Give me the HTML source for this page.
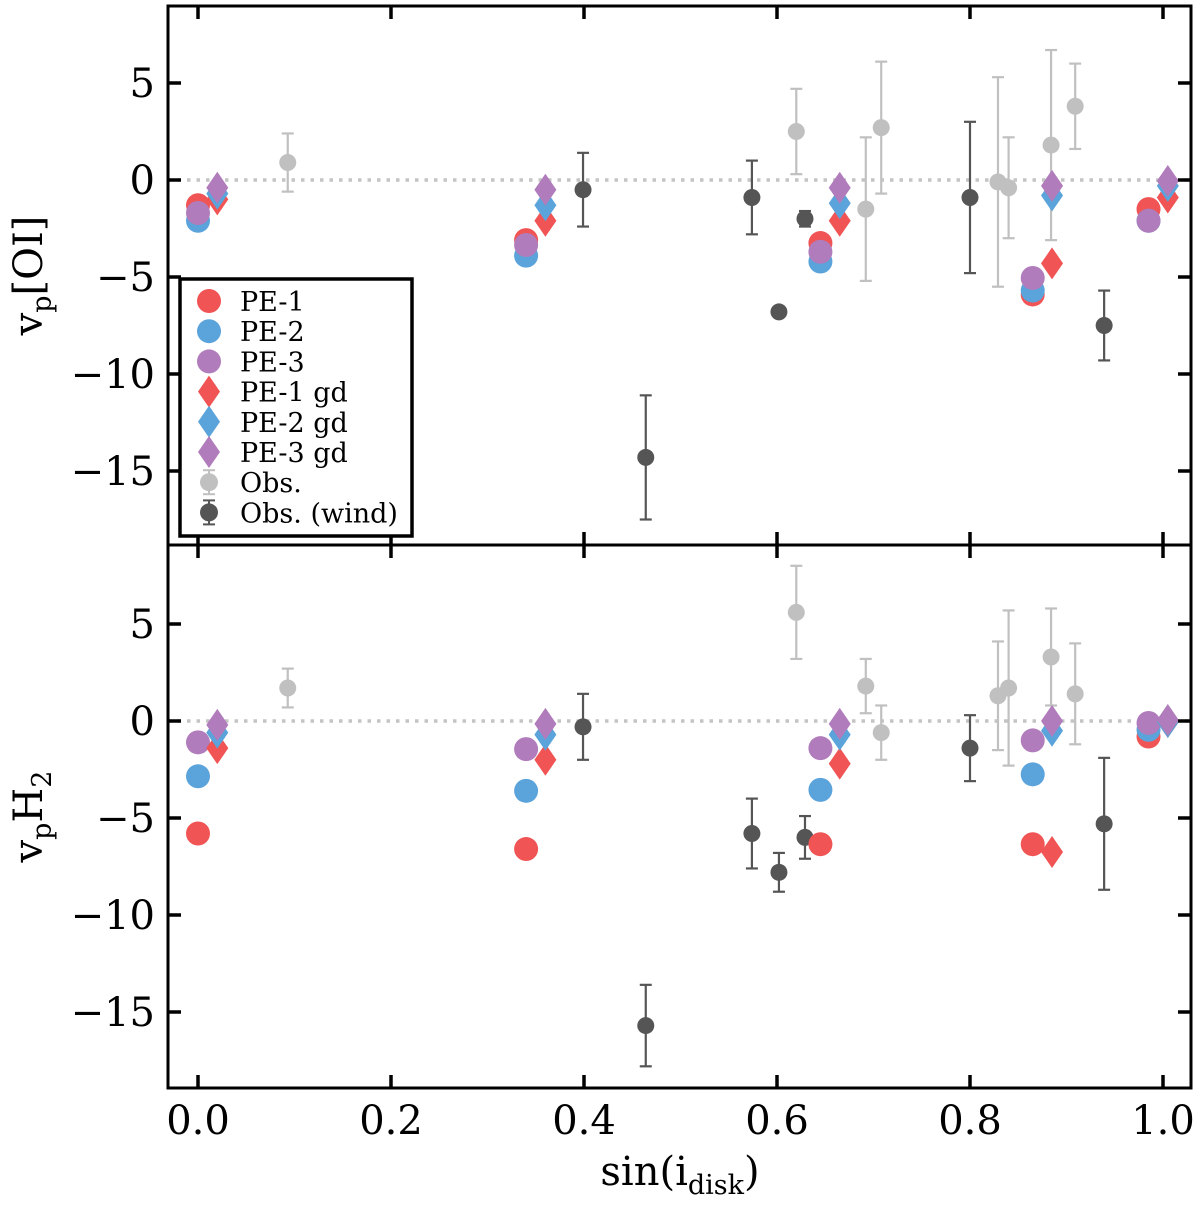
<!DOCTYPE html>
<html><head><meta charset="utf-8"><style>
body{margin:0;background:#fff}
svg text{font-family:"DejaVu Serif","Liberation Serif",serif;fill:#000}
</style></head><body>
<svg id="chart" width="1200" height="1202" viewBox="0 0 1200 1202" xmlns="http://www.w3.org/2000/svg"></svg>
<script>
const modelX = [0.0, 0.34, 0.645, 0.865, 0.985];
const gdX = [0.02, 0.36, 0.665, 0.885, 1.005];
const oiPE1 = [-1.3, -3.1, -3.25, -5.9, -1.5];
const oiPE2 = [-2.1, -3.9, -4.2, -5.7, -2.1];
const oiPE3 = [-1.7, -3.35, -3.7, -5.05, -2.1];
const oiPE1gd = [-1.0, -2.1, -2.1, -4.3, -0.9];
const oiPE2gd = [-0.7, -1.3, -1.2, -0.8, -0.3];
const oiPE3gd = [-0.4, -0.5, -0.4, -0.3, -0.05];
const h2PE1 = [-5.8, -6.6, -6.35, -6.35, -0.8];
const h2PE2 = [-2.85, -3.6, -3.55, -2.75, -0.45];
const h2PE3 = [-1.1, -1.45, -1.4, -1.0, -0.1];
const h2PE1gd = [-1.4, -2.0, -2.2, -6.75, -0.05];
const h2PE2gd = [-0.6, -0.7, -0.7, -0.5, -0.05];
const h2PE3gd = [-0.2, -0.15, -0.15, 0.0, 0.05];
const obsX = [0.093, 0.62, 0.692, 0.708, 0.829, 0.840, 0.884, 0.909];
const oiObs = [0.9, 2.5, -1.5, 2.7, -0.1, -0.4, 1.8, 3.8];
const oiObsErr = [1.5, 2.2, 3.7, 3.4, 5.4, 2.6, 4.9, 2.2];
const h2Obs = [1.7, 5.6, 1.8, -0.6, 1.3, 1.7, 3.3, 1.4];
const h2ObsErr = [1.0, 2.4, 1.4, 1.4, 2.8, 4.0, 2.5, 2.6];
const windX = [0.399, 0.464, 0.574, 0.602, 0.629, 0.800, 0.939];
const oiWind = [-0.5, -14.3, -0.9, -6.8, -2.0, -0.9, -7.5];
const oiWindErr = [1.9, 3.2, 1.9, 0.0, 0.4, 3.9, 1.8];
const h2Wind = [-0.3, -15.7, -5.8, -7.8, -6.0, -1.4, -5.3];
const h2WindErr = [1.7, 2.1, 1.8, 1.0, 1.1, 1.7, 3.4];
const xTicks = [0.0, 0.2, 0.4, 0.6, 0.8, 1.0];
const xTickLabels = ["0.0","0.2","0.4","0.6","0.8","1.0"];
const yTicks = [5, 0, -5, -10, -15];
const yTickLabels = ["5","0","\u22125","\u221210","\u221215"];

const NS = "http://www.w3.org/2000/svg";
const svg = document.getElementById('chart');
const C = {r:'#f05454', b:'#5ba3db', p:'#b07cbb', lo:'#c0c0c0', dk:'#555555'};
const L = 168, R = 1191;
function xs(v){ return 198 + v * 965; }
function mk(tag, attrs, parent){ const e=document.createElementNS(NS,tag); for(const k in attrs) e.setAttribute(k, attrs[k]); (parent||svg).appendChild(e); return e; }

function panel(name, top, bottom, zeroY, d){
  const g = mk('g', {});
  
  
  const ys = v => zeroY - v * 19.4;
  const z = mk('line', {x1:L, x2:R, y1:ys(0), y2:ys(0), stroke:'#c4c4c4', 'stroke-width':3.5, 'stroke-dasharray':'3.5,6'}, g);
  
  
  function errPts(xa, ya, ea, col, nm){
    xa.forEach((x,i)=>{
      const cx = xs(x), cy = ys(ya[i]);
      const eg = mk('g', {}, g);
      
      
      if (ea[i] > 0) {
        const y1 = ys(ya[i]+ea[i]), y2 = ys(ya[i]-ea[i]);
        mk('line',{x1:cx,x2:cx,y1:y1,y2:y2,stroke:col,'stroke-width':2.2},eg);
        mk('line',{x1:cx-6,x2:cx+6,y1:y1,y2:y1,stroke:col,'stroke-width':2.2},eg);
        mk('line',{x1:cx-6,x2:cx+6,y1:y2,y2:y2,stroke:col,'stroke-width':2.2},eg);
      }
      mk('circle',{cx:cx,cy:cy,r:8.5,fill:col},eg);
    });
  }
  errPts(obsX, d.obs, d.obsErr, C.lo, 'obs-point');
  errPts(windX, d.wind, d.windErr, C.dk, 'obs-wind-point');
  function circ(arr, col, nm){ modelX.forEach((x,i)=>{ const c=mk('circle',{cx:xs(x),cy:ys(arr[i]),r:12,fill:col},g);   }); }
  function diam(arr, col, nm){ gdX.forEach((x,i)=>{ const cx=xs(x), cy=ys(arr[i]); const p=mk('polygon',{points:`${cx},${cy-16} ${cx+11},${cy} ${cx},${cy+16} ${cx-11},${cy}`,fill:col},g);   }); }
  circ(d.p1, C.r, 'pe1-point'); circ(d.p2, C.b, 'pe2-point'); circ(d.p3, C.p, 'pe3-point');
  diam(d.g1, C.r, 'pe1-gd-point'); diam(d.g2, C.b, 'pe2-gd-point'); diam(d.g3, C.p, 'pe3-gd-point');
  const f = mk('rect',{x:L,y:top,width:R-L,height:bottom-top,fill:'none',stroke:'#000','stroke-width':3},g);
  
  
  xTicks.forEach(v=>{ const x=xs(v);
    mk('line',{x1:x,x2:x,y1:bottom,y2:bottom-13,stroke:'#000','stroke-width':3.5},g);
    mk('line',{x1:x,x2:x,y1:top,y2:top+13,stroke:'#000','stroke-width':3.5},g);
  });
  yTicks.forEach((v,i)=>{ const y=ys(v);
    mk('line',{x1:L,x2:L+13,y1:y,y2:y,stroke:'#000','stroke-width':3.5},g);
    mk('line',{x1:R,x2:R-13,y1:y,y2:y,stroke:'#000','stroke-width':3.5},g);
    const t=mk('text',{x:155,y:y+14,'text-anchor':'end','font-size':40},g); t.textContent=yTickLabels[i];
    
    
  });
  const yl = mk('text',{x:0,y:0,'font-size':40,'text-anchor':'middle',transform:`translate(42,${(top+bottom)/2}) rotate(-90)`},g);
  
  
  yl.innerHTML = d.label;
}
panel('top-panel-oi', 6, 545, 180, {p1:oiPE1,p2:oiPE2,p3:oiPE3,g1:oiPE1gd,g2:oiPE2gd,g3:oiPE3gd,obs:oiObs,obsErr:oiObsErr,wind:oiWind,windErr:oiWindErr,label:'v<tspan font-size="27" dy="9">p</tspan><tspan dy="-9">[OI]</tspan>'});
panel('bottom-panel-h2', 545, 1088, 721, {p1:h2PE1,p2:h2PE2,p3:h2PE3,g1:h2PE1gd,g2:h2PE2gd,g3:h2PE3gd,obs:h2Obs,obsErr:h2ObsErr,wind:h2Wind,windErr:h2WindErr,label:'v<tspan font-size="27" dy="9">p</tspan><tspan dy="-9">H</tspan><tspan font-size="27" dy="9">2</tspan>'});

xTicks.forEach((v,i)=>{ const t=mk('text',{x:xs(v),y:1134,'text-anchor':'middle','font-size':40}); t.textContent=xTickLabels[i];
  
   });
const xl = mk('text',{x:680,y:1185,'text-anchor':'middle','font-size':40});


xl.innerHTML='sin(i<tspan font-size="27" dy="9">disk</tspan><tspan dy="-9">)</tspan>';

const lg = mk('g',{});


mk('rect',{x:180,y:279,width:232,height:257,fill:'#fff',stroke:'#000','stroke-width':3.5},lg);
const entries = [['PE-1',C.r,'c'],['PE-2',C.b,'c'],['PE-3',C.p,'c'],['PE-1 gd',C.r,'d'],['PE-2 gd',C.b,'d'],['PE-3 gd',C.p,'d'],['Obs.',C.lo,'e'],['Obs. (wind)',C.dk,'e']];
entries.forEach((e,i)=>{
  const y = 301 + i*30.2, cx = 209;
  const eg = mk('g',{},lg);
  
  
  if (e[2]==='c') mk('circle',{cx:cx,cy:y,r:12,fill:e[1]},eg);
  else if (e[2]==='d') mk('polygon',{points:`${cx},${y-16} ${cx+11},${y} ${cx},${y+16} ${cx-11},${y}`,fill:e[1]},eg);
  else { mk('line',{x1:cx,x2:cx,y1:y-12,y2:y+12,stroke:e[1],'stroke-width':2},eg); mk('line',{x1:cx-6,x2:cx+6,y1:y+12,y2:y+12,stroke:e[1],'stroke-width':2},eg); mk('line',{x1:cx-6,x2:cx+6,y1:y-12,y2:y-12,stroke:e[1],'stroke-width':2},eg); mk('circle',{cx:cx,cy:y,r:9,fill:e[1]},eg); }
  const t = mk('text',{x:240,y:y+10,'font-size':27},eg); t.textContent=e[0];
});
</script>
</body></html>
